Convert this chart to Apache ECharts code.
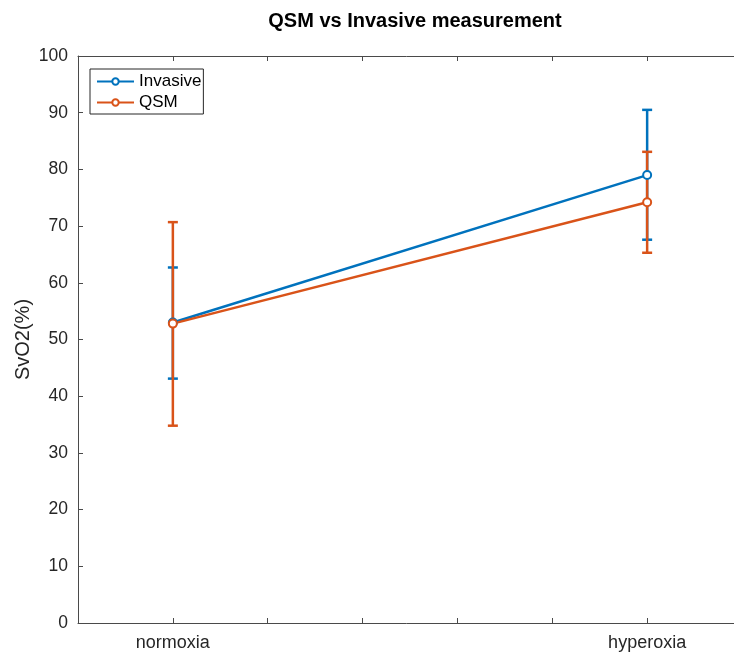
<!DOCTYPE html>
<html>
<head>
<meta charset="utf-8">
<script src="https://cdn.jsdelivr.net/npm/echarts@6/dist/echarts.min.js"></script>
<style>
  html, body { margin: 0; padding: 0; background: #fff; }
  #chart { width: 734px; height: 658px; }
</style>
</head>
<body>
<div id="chart"></div>
<script>
// x positions of the two conditions on the 0..7 axis
var xPos = [1, 6];
var xLabels = { 1: 'normoxia', 6: 'hyperoxia' };

var invasiveMean = [53.0, 79.0];
var invasiveLow = [43.1, 67.6];
var invasiveHigh = [62.7, 90.5];

var qsmMean = [52.8, 74.2];
var qsmLow = [34.8, 65.3];
var qsmHigh = [70.7, 83.1];

var blue = '#0072BD';
var orange = '#D95319';
var axisColor = '#4a4a4a';
var font = '"Liberation Sans", Arial, Helvetica, sans-serif';

function pairs(mean) {
  return xPos.map(function (x, i) { return [x, mean[i]]; });
}
function bars(low, high) {
  return xPos.map(function (x, i) { return [x, low[i], high[i]]; });
}

function errorBar(color) {
  return function (params, api) {
    var top = api.coord([api.value(0), api.value(2)]);
    var bot = api.coord([api.value(0), api.value(1)]);
    var cap = 5;
    var style = { stroke: color, lineWidth: 2.5 };
    return {
      type: 'group',
      children: [
        { type: 'line', shape: { x1: top[0], y1: top[1], x2: bot[0], y2: bot[1] }, style: style },
        { type: 'line', shape: { x1: top[0] - cap, y1: top[1], x2: top[0] + cap, y2: top[1] }, style: style },
        { type: 'line', shape: { x1: bot[0] - cap, y1: bot[1], x2: bot[0] + cap, y2: bot[1] }, style: style }
      ]
    };
  };
}

var chart = echarts.init(document.getElementById('chart'));
chart.setOption({
  animation: false,
  textStyle: { fontFamily: font },
  title: {
    text: 'QSM vs Invasive measurement',
    left: 410,
    textAlign: 'center',
    top: 6,
    textStyle: { fontSize: 20, fontWeight: 'bold', color: '#000', fontFamily: font }
  },
  grid: { left: 78, right: -8, top: 56, bottom: 35, outerBoundsMode: 'none' },
  legend: {
    orient: 'vertical',
    left: 90,
    top: 69,
    padding: [4, 2, 3, 6],
    itemWidth: 37,
    itemHeight: 8,
    itemGap: 4,
    borderColor: '#262626',
    borderWidth: 1,
    borderRadius: 0,
    backgroundColor: '#fff',
    textStyle: { fontSize: 17, color: '#000', fontFamily: font },
    data: ['Invasive', 'QSM']
  },
  xAxis: [{
    type: 'value',
    min: 0,
    max: 7,
    interval: 1,
    splitLine: { show: false },
    axisLine: { lineStyle: { color: axisColor, width: 1 } },
    axisTick: { inside: true, length: 5, lineStyle: { color: axisColor } },
    axisLabel: {
      margin: 11,
      fontSize: 18,
      color: '#262626',
      fontFamily: font,
      formatter: function (v) { return xLabels[v] || ''; }
    }
  }, {
    type: 'value',
    position: 'top',
    min: 0,
    max: 7,
    interval: 1,
    splitLine: { show: false },
    axisLine: { show: true, lineStyle: { color: axisColor, width: 1 } },
    axisTick: { inside: true, length: 5, lineStyle: { color: axisColor } },
    axisLabel: { show: false }
  }],
  yAxis: {
    type: 'value',
    min: 0,
    max: 100,
    interval: 10,
    name: 'SvO2(%)',
    nameLocation: 'middle',
    nameGap: 45,
    nameMoveOverlap: false,
    nameTextStyle: { fontSize: 20, color: '#262626', fontFamily: font },
    splitLine: { show: false },
    axisLine: { show: true, lineStyle: { color: axisColor, width: 1 } },
    axisTick: { inside: true, length: 5, lineStyle: { color: axisColor } },
    axisLabel: { margin: 10, fontSize: 17.5, color: '#262626', fontFamily: font }
  },
  series: [{
    name: 'Invasive',
    type: 'line',
    data: pairs(invasiveMean),
    symbol: 'emptyCircle',
    symbolSize: 8,
    lineStyle: { color: blue, width: 2.5 },
    itemStyle: { color: blue, borderWidth: 2 }
  }, {
    name: 'Invasive error',
    type: 'custom',
    renderItem: errorBar(blue),
    data: bars(invasiveLow, invasiveHigh),
    encode: { x: 0, y: [1, 2] },
    itemStyle: { color: blue }
  }, {
    name: 'QSM',
    type: 'line',
    data: pairs(qsmMean),
    symbol: 'emptyCircle',
    symbolSize: 8,
    lineStyle: { color: orange, width: 2.5 },
    itemStyle: { color: orange, borderWidth: 2 }
  }, {
    name: 'QSM error',
    type: 'custom',
    renderItem: errorBar(orange),
    data: bars(qsmLow, qsmHigh),
    encode: { x: 0, y: [1, 2] },
    itemStyle: { color: orange }
  }]
});
</script>
</body>
</html>
